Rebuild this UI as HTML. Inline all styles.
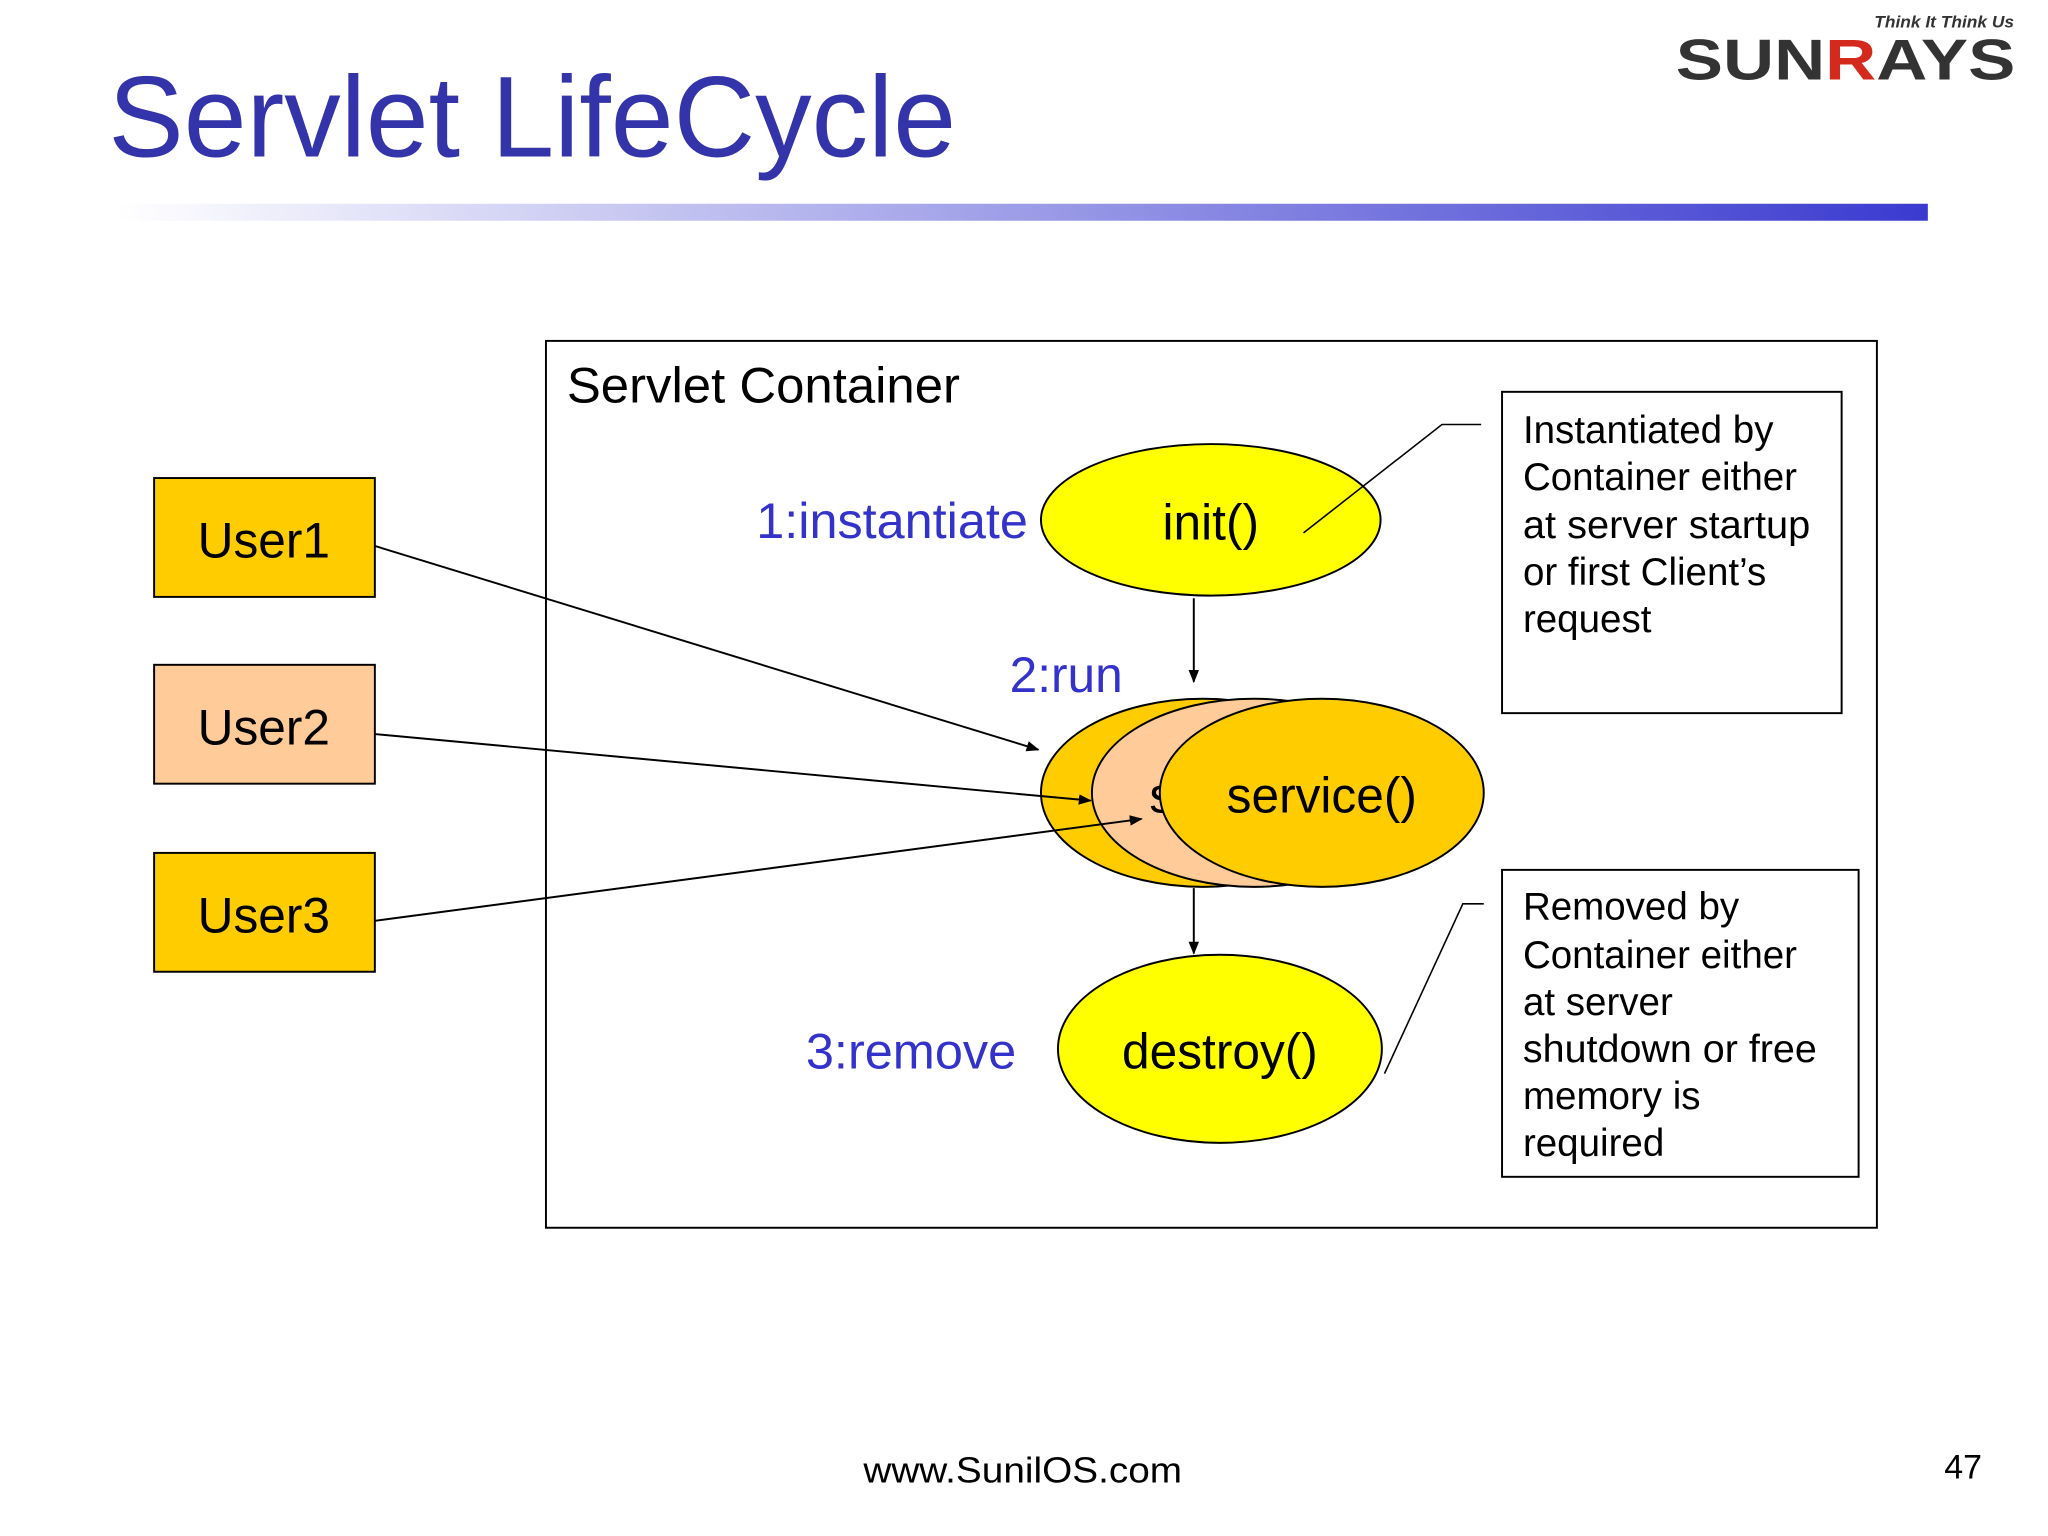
<!DOCTYPE html>
<html><head><meta charset="utf-8"><style>
html,body{margin:0;padding:0;background:#fff;}
svg{display:block;}
text{font-family:"Liberation Sans",Arial,sans-serif;}
</style></head><body>
<svg width="2048" height="1536" viewBox="0 0 1568 1176" xmlns="http://www.w3.org/2000/svg">
<defs>
<linearGradient id="g" x1="0" x2="1" y1="0" y2="0">
<stop offset="0" stop-color="#ffffff"/><stop offset="1" stop-color="#3a3ad0"/>
</linearGradient>
<marker id="a" markerWidth="10" markerHeight="10" refX="9" refY="5" orient="auto" markerUnits="userSpaceOnUse">
<path d="M0,1 L10,5 L0,9 Z" fill="#000"/></marker>
</defs>
<rect width="1568" height="1176" fill="#fff"/>
<text x="83" y="120" font-size="88" fill="#3333aa" textLength="649" lengthAdjust="spacingAndGlyphs">Servlet LifeCycle</text>
<rect x="90" y="156" width="1386" height="13" fill="url(#g)"/>
<text x="1542" y="21" font-size="13" font-style="italic" font-weight="bold" fill="#333" text-anchor="end" textLength="107" lengthAdjust="spacingAndGlyphs">Think It Think Us</text>
<text x="1283" y="61" font-size="44" font-weight="bold" fill="#333" textLength="260" lengthAdjust="spacingAndGlyphs">SUN<tspan fill="#d42a1e">R</tspan>AYS</text>

<rect x="418" y="261" width="1019" height="679" fill="none" stroke="#000" stroke-width="1.5"/>
<text x="434" y="308" font-size="38" textLength="301" lengthAdjust="spacingAndGlyphs">Servlet Container</text>

<rect x="118" y="366" width="169" height="91" fill="#ffcc00" stroke="#000" stroke-width="1.5"/>
<text x="202" y="427" font-size="38" text-anchor="middle">User1</text>
<rect x="118" y="509" width="169" height="91" fill="#ffcc99" stroke="#000" stroke-width="1.5"/>
<text x="202" y="570" font-size="38" text-anchor="middle">User2</text>
<rect x="118" y="653" width="169" height="91" fill="#ffcc00" stroke="#000" stroke-width="1.5"/>
<text x="202" y="714" font-size="38" text-anchor="middle">User3</text>

<ellipse cx="927" cy="398" rx="130" ry="58" fill="#ffff00" stroke="#000" stroke-width="1.5"/>
<text x="927" y="413" font-size="38" text-anchor="middle">init()</text>
<text x="787" y="412" font-size="38" fill="#3333cc" text-anchor="end" textLength="208" lengthAdjust="spacingAndGlyphs">1:instantiate</text>
<line x1="914" y1="458" x2="914" y2="522" stroke="#000" stroke-width="1.5" marker-end="url(#a)"/>
<text x="773" y="530" font-size="38" fill="#3333cc">2:run</text>

<ellipse cx="921" cy="607" rx="124" ry="72" fill="#ffcc00" stroke="#000" stroke-width="1.5"/>
<ellipse cx="960" cy="607" rx="124" ry="72" fill="#ffcc99" stroke="#000" stroke-width="1.5"/>
<text x="880" y="622" font-size="38">s</text>
<ellipse cx="1012" cy="607" rx="124" ry="72" fill="#ffcc00" stroke="#000" stroke-width="1.5"/>
<text x="1012" y="622" font-size="38" text-anchor="middle">service()</text>

<line x1="914" y1="680" x2="914" y2="730" stroke="#000" stroke-width="1.5" marker-end="url(#a)"/>
<ellipse cx="934" cy="803" rx="124" ry="72" fill="#ffff00" stroke="#000" stroke-width="1.5"/>
<text x="934" y="818" font-size="38" text-anchor="middle">destroy()</text>
<text x="778" y="818" font-size="38" fill="#3333cc" text-anchor="end" textLength="161" lengthAdjust="spacingAndGlyphs">3:remove</text>

<line x1="287" y1="418" x2="795" y2="574" stroke="#000" stroke-width="1.5" marker-end="url(#a)"/>
<line x1="287" y1="562" x2="835" y2="613" stroke="#000" stroke-width="1.5" marker-end="url(#a)"/>
<line x1="287" y1="705" x2="874" y2="627" stroke="#000" stroke-width="1.5" marker-end="url(#a)"/>

<rect x="1150" y="300" width="260" height="246" fill="#fff" stroke="#000" stroke-width="1.5"/>
<g font-size="29.5"><text x="1166" y="339">Instantiated by</text><text x="1166" y="375">Container either</text><text x="1166" y="412" textLength="220" lengthAdjust="spacingAndGlyphs">at server startup</text><text x="1166" y="448">or first Client’s</text><text x="1166" y="484">request</text></g>
<polyline points="998,408 1104,325 1134,325" fill="none" stroke="#000" stroke-width="1.2"/>

<rect x="1150" y="666" width="273" height="235" fill="#fff" stroke="#000" stroke-width="1.5"/>
<g font-size="29.5"><text x="1166" y="704">Removed by</text><text x="1166" y="741">Container either</text><text x="1166" y="777">at server</text><text x="1166" y="813" textLength="225" lengthAdjust="spacingAndGlyphs">shutdown or free</text><text x="1166" y="849">memory is</text><text x="1166" y="885">required</text></g>
<polyline points="1060,822 1120,692 1136,692" fill="none" stroke="#000" stroke-width="1.2"/>

<text x="783" y="1135" font-size="28" text-anchor="middle" textLength="244" lengthAdjust="spacingAndGlyphs">www.SunilOS.com</text>
<text x="1503" y="1132" font-size="26" text-anchor="middle">47</text>
</svg>
</body></html>
